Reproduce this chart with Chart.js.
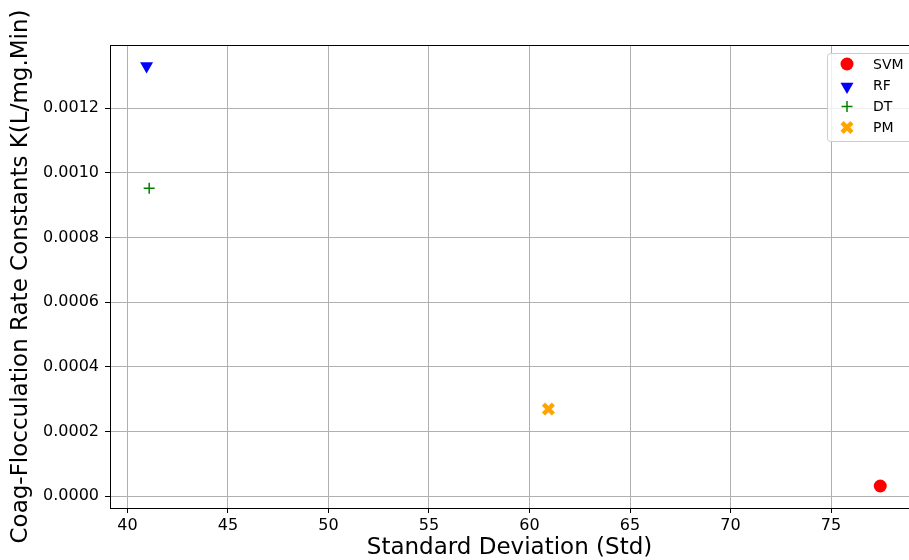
<!DOCTYPE html>
<html>
<head>
<meta charset="utf-8">
<script src="https://cdn.jsdelivr.net/npm/chart.js@4.4.1/dist/chart.umd.min.js"></script>
<style>
  html, body { margin: 0; padding: 0; background: #fff; overflow: hidden; }
  #wrap { width: 909px; height: 560px; }
</style>
</head>
<body>
<div id="wrap"><canvas id="myChart" width="909" height="560"></canvas></div>
<script>
// Données
const models = ["SVM", "RF", "DT", "PM"];
const stdValues = [77.45, 40.95, 41.08, 60.94];
const rateValues = [0.000031, 0.00133, 0.000952, 0.000269];
const colors = ["#ff0000", "#0000ff", "#008000", "#ffa500"];
const xTicks = [40, 45, 50, 55, 60, 65, 70, 75];
const yTicks = [0, 0.0002, 0.0004, 0.0006, 0.0008, 0.0010, 0.0012];

const FONT = "'DejaVu Sans', sans-serif";

// style des marqueurs, un par modèle
const markers = [
    {pointStyle: 'circle', radius: 6.5, rotation: 0, borderWidth: 0},
    {pointStyle: 'triangle', radius: 7.5, rotation: 180, borderWidth: 0},
    {pointStyle: 'cross', radius: 5.5, rotation: 0, borderWidth: 1.5},
    {pointStyle: 'crossRot', radius: 7, rotation: 0, borderWidth: 4.5}
];

let datasets = [];
for (let i = 0; i < models.length; i++) {
    datasets.push({
        label: models[i],
        data: [{x: stdValues[i], y: rateValues[i]}],
        backgroundColor: colors[i],
        borderColor: colors[i],
        pointStyle: markers[i].pointStyle,
        pointRadius: markers[i].radius,
        pointHoverRadius: markers[i].radius,
        pointRotation: markers[i].rotation,
        pointBorderWidth: markers[i].borderWidth
    });
}

// cadre haut + légende dans la zone du graphe
const framePlugin = {
    id: 'frame',
    afterDraw(chart) {
        const ctx = chart.ctx;
        const a = chart.chartArea;
        ctx.save();
        ctx.strokeStyle = '#000';
        ctx.lineWidth = 1;
        ctx.beginPath();
        ctx.moveTo(a.left, a.top + 0.5);
        ctx.lineTo(a.right + 2, a.top + 0.5);
        ctx.stroke();

        // légende
        const bx = 827, by = 53, bw = 100, bh = 88;
        ctx.fillStyle = 'rgba(255,255,255,0.8)';
        ctx.strokeStyle = '#cccccc';
        ctx.beginPath();
        ctx.roundRect(bx + 0.5, by + 0.5, bw, bh, 3);
        ctx.fill();
        ctx.stroke();

        const rows = [64, 85, 106.5, 127.5];
        ctx.font = "14px " + FONT;
        ctx.textBaseline = 'middle';
        ctx.textAlign = 'left';
        chart.data.datasets.forEach(function (ds, i) {
            const opts = {
                pointStyle: ds.pointStyle,
                radius: ds.pointRadius,
                rotation: ds.pointRotation,
                borderWidth: ds.pointBorderWidth
            };
            ctx.fillStyle = ds.backgroundColor;
            ctx.strokeStyle = ds.borderColor;
            ctx.lineWidth = ds.pointBorderWidth;
            if (ds.pointStyle === 'triangle') {
                Chart.helpers.drawPoint(ctx, opts, 847, rows[i] + 1.5);
            } else {
                Chart.helpers.drawPoint(ctx, opts, 847, rows[i]);
            }
            ctx.fillStyle = '#000';
            ctx.fillText(ds.label, 873, rows[i] + 1);
        });
        ctx.restore();
    }
};

new Chart(document.getElementById('myChart').getContext('2d'), {
    type: 'scatter',
    data: {datasets: datasets},
    plugins: [framePlugin],
    options: {
        responsive: false,
        animation: false,
        layout: {autoPadding: false, padding: {top: 45, right: 0, left: 0, bottom: 0}},
        plugins: {
            legend: {display: false},
            tooltip: {enabled: false}
        },
        scales: {
            x: {
                type: 'linear',
                min: 39.13,
                max: 78.88,
                afterFit: function (scale) {
                    scale.height = 52;
                    scale.paddingLeft = 0;
                    scale.paddingRight = 0;
                },
                afterBuildTicks: function (scale) {
                    scale.ticks = xTicks.map(function (v) { return {value: v}; });
                },
                ticks: {
                    color: '#000',
                    font: {family: FONT, size: 16},
                    padding: 3,
                    maxRotation: 0,
                    autoSkip: false
                },
                grid: {color: '#b0b0b0', lineWidth: 1, tickColor: '#000', tickLength: 5},
                border: {color: '#000', width: 1},
                title: {
                    display: true,
                    text: 'Standard Deviation (Std)',
                    color: '#000',
                    font: {family: FONT, size: 23, lineHeight: 1},
                    padding: {top: 0, bottom: 0}
                }
            },
            y: {
                type: 'linear',
                min: -0.000037,
                max: 0.001395,
                afterFit: function (scale) {
                    scale.width = 110;
                    scale.paddingTop = 0;
                    scale.paddingBottom = 0;
                },
                afterBuildTicks: function (scale) {
                    scale.ticks = yTicks.map(function (v) { return {value: v}; });
                },
                ticks: {
                    color: '#000',
                    font: {family: FONT, size: 16},
                    padding: 6,
                    autoSkip: false,
                    callback: function (v) { return Number(v).toFixed(4); }
                },
                grid: {color: '#b0b0b0', lineWidth: 1, tickColor: '#000', tickLength: 5},
                border: {color: '#000', width: 1},
                title: {
                    display: true,
                    text: 'Coag-Flocculation Rate Constants K(L/mg.Min)',
                    color: '#000',
                    font: {family: FONT, size: 23, lineHeight: 1},
                    padding: {top: 10, bottom: 0}
                }
            }
        }
    }
});
</script>
</body>
</html>
